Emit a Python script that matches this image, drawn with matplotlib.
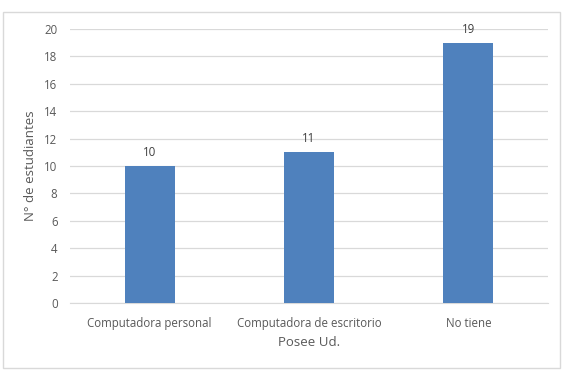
import matplotlib
matplotlib.use("Agg")
import matplotlib.pyplot as plt
from matplotlib.patches import Rectangle

categories = ["Computadora personal", "Computadora de escritorio", "No tiene"]
values = [10, 11, 19]
yticks = [0, 2, 4, 6, 8, 10, 12, 14, 16, 18, 20]

W, H = 564, 371
fig = plt.figure(figsize=(W/100, H/100), dpi=100)
plt.rcParams['font.family'] = ['Open Sans', 'DejaVu Sans']
txt = '#595959'

fig.patches.append(Rectangle((3/W, 1 - 368/H), (560-3)/W, (368-12)/H, transform=fig.transFigure,
                             fill=False, edgecolor='#d9d9d9', linewidth=1.0))

ax = fig.add_axes([70/W, 1 - 303/H, (548-70)/W, (303-29)/H])
x = range(len(categories))
bars = ax.bar(x, values, width=0.315, color='#4f81bd', zorder=3)
ax.set_xlim(-0.5, 2.5)
ax.set_ylim(0, 20)
ax.set_yticks(yticks)
ax.grid(axis='y', color='#d9d9d9', linewidth=0.9, zorder=0)
for s in ['top', 'right', 'left']:
    ax.spines[s].set_visible(False)
ax.spines['bottom'].set_color('#d9d9d9')
ax.tick_params(axis='both', length=0, colors=txt, labelsize=8.3)
ax.tick_params(axis='y', pad=9)
ax.tick_params(axis='x', pad=10)
ax.set_xticks(list(x))
ax.set_xticklabels(categories)
for xi, v in zip(x, values):
    ax.annotate(str(v), (xi, v), xytext=(0, 5), textcoords='offset points',
                ha='center', va='bottom', fontsize=8.3, color='#404040')
ax.set_ylabel("N° de estudiantes", fontsize=9.5, color=txt)
ax.yaxis.set_label_coords(31/W, 0.5, transform=fig.transFigure)
ax.yaxis.label.set_va('center')
ax.set_xlabel("Posee Ud.", fontsize=9.5, color=txt)
ax.xaxis.set_label_coords((70+548)/2/W, 1 - 343/H, transform=fig.transFigure)
ax.xaxis.label.set_va('center')
ax.yaxis.set_label_coords(31/W, 1 - 166/H, transform=fig.transFigure)

fig.savefig("out.png", dpi=100)
